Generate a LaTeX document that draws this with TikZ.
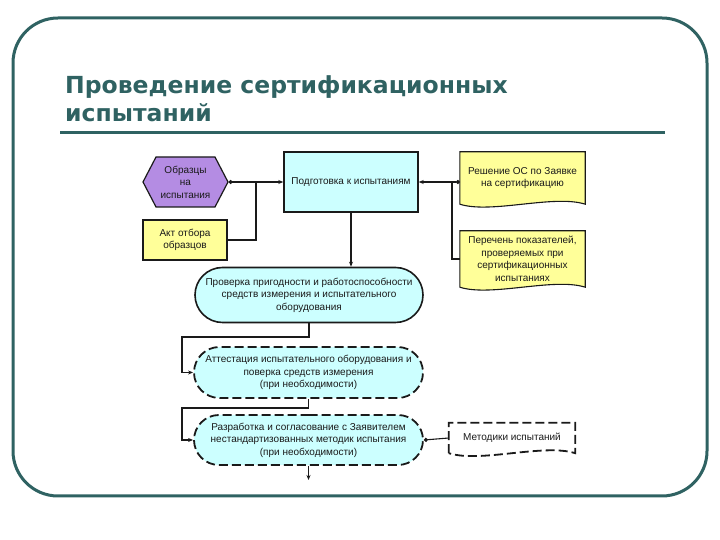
\documentclass[tikz,border=0pt]{standalone}
\usepackage{fontspec}
\setmainfont{Liberation Sans}
\newfontfamily\headfont{DejaVu Sans}
\usetikzlibrary{arrows.meta,positioning,calc,shapes.misc,shapes.symbols,backgrounds}
\definecolor{Frame}{HTML}{2F6262}
\definecolor{Lilac}{HTML}{B48CE3}
\definecolor{Aqua}{HTML}{CCFFFF}
\definecolor{Lemon}{HTML}{FFFF99}
\definecolor{Ink}{HTML}{1A1A1A}
% outline of a document shape round a node (wavy bottom edge)
\newcommand{\docoutline}[2][]{%
  \filldraw[#1] (#2.south west) -- (#2.north west) -- (#2.north east) -- (#2.south east)
    .. controls ($(#2.south east)!0.5!(#2.south)+(0,10)$) and ($(#2.south)!0.5!(#2.south west)+(0,-10)$) .. (#2.south west) -- cycle;}
\tikzset{
  every node/.style={text=Ink},
  stepbox/.style={draw=Ink,line width=1.4pt,fill=Aqua,align=center,inner sep=2pt},
  hexbox/.style={shape=signal,signal to=west and east,signal pointer angle=125,draw=Ink,line width=1.2pt,fill=Lilac,align=center,inner sep=1pt},
  notebox/.style={draw=Ink,line width=1.1pt,fill=Lemon,align=center,inner sep=2pt},
  docbox/.style={align=center,inner sep=2pt},
  termbox/.style={shape=rounded rectangle,draw=Ink,line width=1.6pt,fill=Aqua,align=center,inner sep=2pt},
  optbox/.style={termbox,dash pattern=on 9pt off 4pt,line width=1.8pt},
  link/.style={draw=Ink,line width=1.1pt},
  arr/.style={link,-{Stealth[length=5pt,width=4pt]}},
  dotarr/.style={link,{Circle[length=4pt]}-{Stealth[length=5pt,width=4pt]}},
}
\begin{document}
\begin{tikzpicture}[x=1pt,y=1pt,font=\fontsize{10}{12.5}\selectfont]
\useasboundingbox (0,0) rectangle (720,540);
\draw[Frame,line width=3pt,rounded corners=45pt] (13,44) rectangle (707,522);
\node[anchor=north west,inner sep=0pt,text=Frame,align=left,font=\headfont\bfseries\fontsize{23.5}{28}\selectfont] (title) at (65,465) {Проведение сертификационных\\испытаний};
\draw[Frame,line width=3pt] (60,407) -- (665,407);

% main column
\node[stepbox,minimum width=134pt,minimum height=60pt] (prep) at (351,358) {Подготовка к испытаниям};
\node[termbox,minimum width=232pt,minimum height=55pt] (check) at (309,245) {Проверка пригодности и работоспособности\\средств измерения и испытательного\\оборудования};
\node[optbox,minimum width=233pt,minimum height=51pt] (attest) at (308.5,167.5) {Аттестация испытательного оборудования и\\поверка средств измерения\\(при необходимости)};
\node[optbox,minimum width=233pt,minimum height=50pt] (devel) at (308.5,100) {Разработка и согласование с Заявителем\\нестандартизованных методик испытания\\(при необходимости)};

% inputs on the left
\node[hexbox,minimum width=85pt,minimum height=50pt] (samples) at (185.5,358) {Образцы\\на\\испытания};
\node[notebox,minimum width=84pt,minimum height=40pt] (act) at (185,300) {Акт отбора\\образцов};

% documents on the right
\node[docbox,minimum width=125pt,minimum height=52pt] (decision) at (522.5,362) {Решение ОС по Заявке\\на сертификацию};
\node[docbox,minimum width=125pt,minimum height=56pt] (list) at (522.5,281) {Перечень показателей,\\проверяемых при\\сертификационных\\испытаниях};
\node[docbox,minimum width=126pt,minimum height=30pt] (methods) at (512,102) {Методики испытаний};
\begin{scope}[on background layer]
  \docoutline[draw=Ink,line width=1.1pt,fill=Lemon]{decision}
  \docoutline[draw=Ink,line width=1.1pt,fill=Lemon]{list}
  \docoutline[draw=Ink,line width=1.8pt,fill=white,dash pattern=on 9pt off 4pt]{methods}
\end{scope}

% junctions and bends
\coordinate (joinL) at ($(samples.east)!0.5!(prep.west)$);
\coordinate (joinR) at (452,358);
\coordinate (bendA) at (182,203);
\coordinate (bendB) at (182,132);
\coordinate (out) at (308.5,60);

\draw[dotarr] (samples.east) -- (prep.west);
\draw[link] (act.east) -| (joinL);
\draw[dotarr] (decision.west |- prep.east) -- (prep.east);
\draw[link] (list.west) -| (joinR);
\draw[arr] (prep.south) -- (prep.south |- check.north);
\draw[arr] (check.south) |- (bendA) |- (attest.west);
\draw[arr] (attest.south) |- (bendB) |- (devel.west);
\draw[arr] (devel.south) -- (out);
\draw[link,-{Circle[length=4pt]}] (methods.west) -- (devel.east);
\end{tikzpicture}
\end{document}
